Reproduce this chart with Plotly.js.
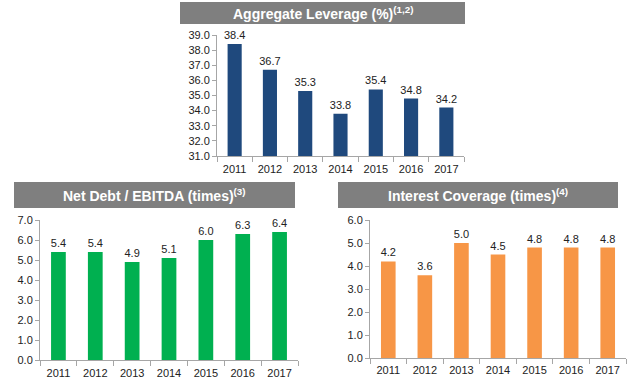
<!DOCTYPE html>
<html><head><meta charset="utf-8">
<script src="https://cdn.plot.ly/plotly-3.0.1.min.js"></script>
<style>html,body{margin:0;padding:0;background:#fff}#c{width:640px;height:382px}</style>
</head><body><div id="c"></div>
<script>
const years = ['2011','2012','2013','2014','2015','2016','2017'];
const leverage = [38.4, 36.7, 35.3, 33.8, 35.4, 34.8, 34.2];
const netDebtEbitda = [5.4, 5.4, 4.9, 5.1, 6.0, 6.3, 6.4];
const interestCoverage = [4.2, 3.6, 5.0, 4.5, 4.8, 4.8, 4.8];
const titles = ['Aggregate Leverage (%)<sup>(1,2)</sup>', 'Net Debt / EBITDA (times)<sup>(3)</sup>', 'Interest Coverage (times)<sup>(4)</sup>'];

const W = 640, H = 382;
const px = v => v / W, py = v => 1 - v / H;
const FONT = 'Liberation Sans, Arial, sans-serif';
const tf = {family: FONT, size: 11, color: '#222'};

function bar(y, color, xa, ya) {
  return {type: 'bar', x: years, y: y, xaxis: xa, yaxis: ya,
    marker: {color: color}, width: 0.4,
    text: y.map(v => v.toFixed(1)), textposition: 'outside', cliponaxis: false,
    constraintext: 'none', textfont: tf, hoverinfo: 'skip'};
}
const data = [
  bar(leverage, '#1F497D', 'x', 'y'),
  bar(netDebtEbitda, '#00B050', 'x2', 'y2'),
  bar(interestCoverage, '#F79646', 'x3', 'y3')
];
function xax(d, so) {
  return {domain: d, type: 'category', showline: true, linecolor: '#A6A6A6', linewidth: 1,
    ticks: 'outside', tickson: 'boundaries', ticklen: 5, tickcolor: '#A6A6A6', tickangle: 0,
    ticklabelstandoff: so, tickfont: tf, showgrid: false, zeroline: false, fixedrange: true};
}
function yax(d, r, anchor) {
  return {domain: d, range: r, dtick: 1, tickformat: '.1f', showline: true, linecolor: '#A6A6A6',
    ticks: 'outside', ticklen: 4, tickcolor: '#A6A6A6', tickfont: tf, showgrid: false,
    zeroline: false, anchor: anchor, fixedrange: true};
}
const boxes = [[180, 465, 2, 24], [14, 295, 182, 208], [338, 618, 182, 208]];
const shapes = boxes.map(b => ({type: 'rect', xref: 'paper', yref: 'paper',
  x0: px(b[0]), x1: px(b[1]), y0: py(b[3]), y1: py(b[2]), fillcolor: '#7F7F7F', line: {width: 0}}));
const annotations = boxes.map((b, i) => ({xref: 'paper', yref: 'paper',
  x: px((b[0] + b[1]) / 2), y: py((b[2] + b[3]) / 2), xanchor: 'center', yanchor: 'middle',
  text: '<b>' + titles[i] + '</b>', showarrow: false, font: {family: FONT, size: 14, color: '#fff'}}));

const layout = {
  width: W, height: H, margin: {l: 0, r: 0, t: 0, b: 0},
  paper_bgcolor: '#fff', plot_bgcolor: '#fff', showlegend: false, bargap: 0.6,
  xaxis: Object.assign(xax([px(217), px(464)], 3), {anchor: 'y'}),
  yaxis: yax([py(156), py(35)], [31, 39], 'x'),
  xaxis2: Object.assign(xax([px(40), px(298)], 3), {anchor: 'y2'}),
  yaxis2: yax([py(360), py(220)], [0, 7], 'x2'),
  xaxis3: Object.assign(xax([px(370), px(626)], 2), {anchor: 'y3'}),
  yaxis3: yax([py(358), py(220)], [0, 6], 'x3'),
  shapes: shapes, annotations: annotations
};
Plotly.newPlot('c', data, layout, {displayModeBar: false, staticPlot: true});
</script></body></html>
